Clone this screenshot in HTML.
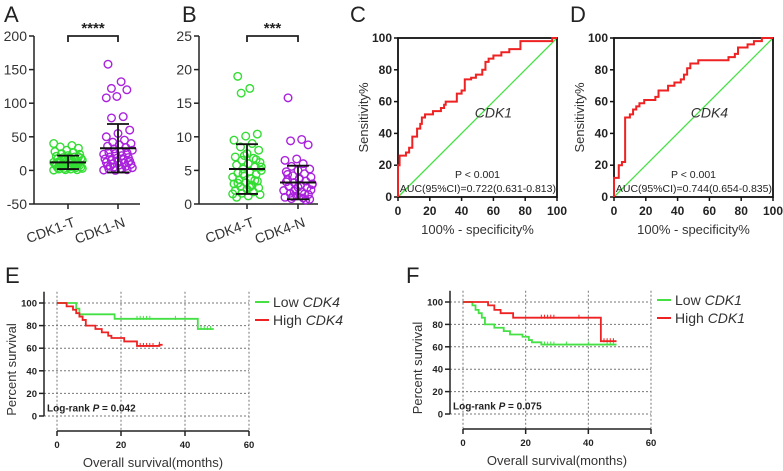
<!DOCTYPE html>
<html><head><meta charset="utf-8"><style>
body{margin:0;background:#fff}
svg{display:block;font-family:"Liberation Sans",Arial,sans-serif}
</style></head><body>
<svg id="fig" width="783" height="471" viewBox="0 0 783 471"></svg>
<script>
// ---------- data ----------
const catsA=["CDK1-T","CDK1-N"];
const cdk1T=[40,37,35,33,30,28,27,25,24,22,21,20,19,18,18,17,16,15,15,14,13,13,12,12,11,11,10,10,9,9,8,8,7,7,6,6,5,5,4,4,3,3,2,2,1,1,0.5,6,14,20];
const cdk1N=[158,132,122,120,110,108,80,78,60,55,50,45,42,40,38,36,34,32,30,28,27,26,25,24,22,20,19,18,17,16,15,14,13,12,11,10,9,8,7,6,5,4,3,2,1,0,0.5,2,6,12];
const statsA_mean=[12,33], statsA_sd=[10,36];
const catsB=["CDK4-T","CDK4-N"];
const cdk4T=[19,17.2,16.5,10.4,10.1,9.5,9,8.5,8,7.5,7,6.8,6.5,6.2,6,5.8,5.5,5.2,5,4.8,4.6,4.4,4.2,4,3.8,3.6,3.4,3.2,3,2.8,2.6,2.4,2.2,2,1.8,1.6,1.4,1.2,1,3.5,4.5,5.5,2.5,3.1,6.6,7.2,1.5,2.7];
const cdk4N=[15.8,9.6,9.4,8.8,6.7,6.5,6,5.6,5.2,5,4.8,4.5,4.2,4,3.8,3.6,3.4,3.2,3,2.8,2.6,2.4,2.2,2,1.8,1.6,1.4,1.2,1,0.9,0.8,0.7,2.5,3.3,1.5,1.1,2.1,3.7,4.4,0.6,1.9,2.9];
const statsB_mean=[5.2,3.2], statsB_sd=[3.7,2.5];
const rocC_x=[0,0,1,1,5,5,7,7,9,9,12,12,14,14,15,15,17,17,22,22,27,27,29,29,30,30,37,37,40,40,42,42,46,46,49,49,53,53,55,55,57,57,60,60,65,65,70,70,77,77,97,97,100];
const rocC_y=[0,20,20,26,26,28,28,31,31,38,38,43,43,46,46,50,50,52,52,54,54,56,56,58,58,60,60,65,65,67,67,74,74,75,75,77,77,80,80,85,85,87,87,89,89,91,91,93,93,98,98,100,100];
const rocD_x=[0,0,3,3,5,5,7,7,10,10,12,12,14,14,16,16,19,19,26,26,28,28,34,34,38,38,42,42,44,44,46,46,48,48,53,53,72,72,76,76,78,78,84,84,88,88,93,93,100];
const rocD_y=[0,12,12,20,20,22,22,50,50,52,52,55,55,57,57,59,59,61,61,63,63,67,67,70,70,72,72,74,74,77,77,81,81,84,84,86,86,88,88,90,90,94,94,96,96,98,98,100,100];
const kmE_low_t=[0,6,6,7,7,18,18,44,44,49], kmE_low_s=[100,100,95,95,90,90,86,86,77,77];
const kmE_high_t=[0,3,3,5,5,6,6,7,7,8,8,9,9,12,12,14,14,16,16,17,17,21,21,25,25,32,32,33];
const kmE_high_s=[100,100,97,97,94,94,91,91,88,88,85,85,80,80,77,77,74,74,71,71,69,69,66,66,62,62,63,63];
const kmE_low_cens=[25,26,27,28,29,37,45,46,47,48], kmE_high_cens=[26,27,28,29,30,32];
const kmF_high_t=[0,8,8,10,10,12,12,16,16,44,44,49], kmF_high_s=[100,100,97,97,93,93,90,90,86,86,65,65];
const kmF_low_t=[0,3,3,4,4,5,5,6,6,7,7,10,10,13,13,15,15,19,19,21,21,22,22,25,25,49];
const kmF_low_s=[100,100,97,97,93,93,90,90,86,86,80,80,77,77,74,74,71,71,69,69,66,66,64,64,62,62];
const kmF_high_cens=[25,26,27,28,29,37,45,46,47,48], kmF_low_cens=[26,27,28,29,33,40,46,47,48];

// ---------- helpers ----------
const svg=document.getElementById('fig');
const NS='http://www.w3.org/2000/svg';
function el(tag,attrs,parent){const e=document.createElementNS(NS,tag);for(const k in attrs)e.setAttribute(k,attrs[k]);(parent||svg).appendChild(e);return e;}
function txt(s,attrs,parent){const e=el('text',attrs,parent);e.textContent=s;return e;}
function lin(d0,d1,r0,r1){return v=>r0+(v-d0)/(d1-d0)*(r1-r0);}
const GREEN='#33dd33',PURP='#aa22dd',RED='#ee2222',LGREEN='#44e044';

// ---------- scatter panels ----------
function scatterPanel(name,label,lx,x0,x1,y0,y1,dmin,dmax,ticks,cats,groups,means,sds,stars,catX){
  const g=el('g',{});
  
  
  const y=lin(dmin,dmax,y1,y0);
  txt(label,{x:lx,y:22,'font-size':22,fill:'#222'},g);
  el('line',{x1:x0,y1:y0,x2:x0,y2:y1,stroke:'#222','stroke-width':1.5},g);
  el('line',{x1:x0,y1:y1,x2:x1,y2:y1,stroke:'#222','stroke-width':1.5},g);
  ticks.forEach(t=>{
    el('line',{x1:x0-5,y1:y(t),x2:x0,y2:y(t),stroke:'#222','stroke-width':1.5},g);
    const tl=txt(String(t),{x:x0-7,y:y(t)+5,'font-size':14,'text-anchor':'end',fill:'#333'},g);
    
    
  });
  const colors=[GREEN,PURP];
  groups.forEach((vals,gi)=>{
    const cx=catX[gi];
    el('line',{x1:cx,y1:y1,x2:cx,y2:y1+5,stroke:'#222','stroke-width':1.5},g);
    const cl=txt(cats[gi],{x:cx+8,y:y1+22,'font-size':14,'text-anchor':'end',fill:'#333',transform:`rotate(-20 ${cx+8} ${y1+22})`},g);
    
    
    vals.forEach((v,i)=>{
      const j=((i*37)%23-11)*1.3*Math.min(1,1.2-Math.abs(v-means[gi])/(dmax-dmin));
      const c=el('circle',{cx:cx+j,cy:y(v),r:3.8,fill:'none',stroke:colors[gi],'stroke-width':1.4},g);
      
      
    });
    const m=means[gi],s=sds[gi];
    el('line',{x1:cx-18,y1:y(m),x2:cx+18,y2:y(m),stroke:'#111','stroke-width':2},g);
    el('line',{x1:cx,y1:y(m-s),x2:cx,y2:y(m+s),stroke:'#111','stroke-width':1.8},g);
    el('line',{x1:cx-11,y1:y(m+s),x2:cx+11,y2:y(m+s),stroke:'#111','stroke-width':1.8},g);
    el('line',{x1:cx-11,y1:y(m-s),x2:cx+11,y2:y(m-s),stroke:'#111','stroke-width':1.8},g);
  });
  el('path',{d:`M${catX[0]},42 V36 H${catX[1]} V42`,fill:'none',stroke:'#222','stroke-width':1.8},g);
  txt(stars,{x:(catX[0]+catX[1])/2,y:33,'font-size':15,'font-weight':'bold','text-anchor':'middle',fill:'#222'},g);
}
scatterPanel('panel-a-scatter','A',4,34,140,36,204,-50,200,[-50,0,50,100,150,200],catsA,[cdk1T,cdk1N],statsA_mean,statsA_sd,'****',[68,118]);
scatterPanel('panel-b-scatter','B',182,199,318,36,204,0,25,[0,5,10,15,20,25],catsB,[cdk4T,cdk4N],statsB_mean,statsB_sd,'***',[247,298]);

// ---------- ROC panels ----------
function rocPanel(name,label,lx,x0,x1,y0,y1,rx,ry,gene,auc){
  const g=el('g',{});
  
  
  const X=lin(0,100,x0,x1),Y=lin(0,100,y1,y0);
  txt(label,{x:lx,y:22,'font-size':22,fill:'#222'},g);
  el('line',{x1:X(0),y1:Y(0),x2:X(100),y2:Y(100),stroke:LGREEN,'stroke-width':1.3},g);
  el('rect',{x:x0,y:y0,width:x1-x0,height:y1-y0,fill:'none',stroke:'#111','stroke-width':1.8},g);
  [0,20,40,60,80,100].forEach(t=>{
    el('line',{x1:x0-4,y1:Y(t),x2:x0,y2:Y(t),stroke:'#111','stroke-width':1.5},g);
    el('line',{x1:X(t),y1:y1,x2:X(t),y2:y1+4,stroke:'#111','stroke-width':1.5},g);
    txt(String(t),{x:x0-6,y:Y(t)+4,'font-size':12,'font-weight':'bold','text-anchor':'end',fill:'#222'},g);
    txt(String(t),{x:X(t),y:y1+18,'font-size':12,'font-weight':'bold','text-anchor':'middle',fill:'#222'},g);
  });
  let d='';rx.forEach((v,i)=>{d+=(i?'L':'M')+X(v)+','+Y(ry[i]);});
  const p=el('path',{d,fill:'none',stroke:RED,'stroke-width':2},g);
  
  
  txt(gene,{x:X(60),y:Y(50),'font-size':14,'font-style':'italic','text-anchor':'middle',fill:'#333'},g);
  txt('P < 0.001',{x:X(50),y:Y(12),'font-size':10.5,'text-anchor':'middle',fill:'#222'},g);
  txt(auc,{x:X(100)-1,y:Y(3),'font-size':10.5,'text-anchor':'end',fill:'#222'},g);
  txt('100% - specificity%',{x:(x0+x1)/2,y:y1+37,'font-size':13,'text-anchor':'middle',fill:'#333'},g);
  txt('Sensitivity%',{x:0,y:0,'font-size':13,'text-anchor':'middle',fill:'#333',transform:`translate(${x0-30} ${(y0+y1)/2}) rotate(-90)`},g);
}
rocPanel('panel-c-roc','C',350,398,557,38,197,rocC_x,rocC_y,'CDK1','AUC(95%CI)=0.722(0.631-0.813)');
rocPanel('panel-d-roc','D',570,614,773,38,197,rocD_x,rocD_y,'CDK4','AUC(95%CI)=0.744(0.654-0.835)');

// ---------- KM panels ----------
function kmPanel(name,label,lx,ax,x0,x1,y0,y1,xa,series,legend,lgx,lgy,pval){
  const g=el('g',{});
  
  
  const X=lin(0,60,x0,x1),Y=lin(0,100,y1,y0);
  txt(label,{x:lx,y:283,'font-size':22,fill:'#222'},g);
  [0,20,40,60,80,100].forEach(t=>{
    el('line',{x1:ax,y1:Y(t),x2:x1,y2:Y(t),stroke:'#777','stroke-width':1,'stroke-dasharray':'2,2'},g);
    el('line',{x1:ax-5,y1:Y(t),x2:ax,y2:Y(t),stroke:'#222','stroke-width':1.5},g);
    txt(String(t),{x:ax-7,y:Y(t)+3.5,'font-size':9.5,'font-weight':'bold','text-anchor':'end',fill:'#222'},g);
  });
  [0,20,40,60].forEach(t=>{
    el('line',{x1:X(t),y1:Y(110),x2:X(t),y2:xa,stroke:'#777','stroke-width':1,'stroke-dasharray':'2,2'},g);
    el('line',{x1:X(t),y1:xa,x2:X(t),y2:xa+5,stroke:'#222','stroke-width':1.5},g);
    txt(String(t),{x:X(t),y:xa+17,'font-size':9.5,'font-weight':'bold','text-anchor':'middle',fill:'#222'},g);
  });
  el('line',{x1:ax,y1:Y(110),x2:ax,y2:Y(0),stroke:'#222','stroke-width':1.5},g);
  el('line',{x1:X(0),y1:xa,x2:X(60),y2:xa,stroke:'#222','stroke-width':1.5},g);
  series.forEach(s=>{
    let d='';s.t.forEach((v,i)=>{d+=(i?'L':'M')+X(v)+','+Y(s.s[i]);});
    const p=el('path',{d,fill:'none',stroke:s.c,'stroke-width':1.8},g);
    
    
    s.cens.forEach(ct=>{
      let sv=s.s[0];s.t.forEach((v,i)=>{if(v<=ct)sv=s.s[i];});
      el('line',{x1:X(ct),y1:Y(sv)-3,x2:X(ct),y2:Y(sv)+1,stroke:s.c,'stroke-width':1},g);
    });
  });
  legend.forEach((L,i)=>{
    const ly=lgy+i*18;
    const lg=el('g',{},g);
    
    
    el('line',{x1:lgx,y1:ly,x2:lgx+14,y2:ly,stroke:L.c,'stroke-width':2},lg);
    const t=txt(L.a+' ',{x:lgx+18,y:ly+5,'font-size':14,fill:'#333'},lg);
    const ts=el('tspan',{'font-style':'italic'},t);ts.textContent=L.b;
  });
  const pt=txt('Log-rank ',{x:ax+3,y:Y(4),'font-size':10,'font-weight':'bold',fill:'#222'},g);
  const pi=el('tspan',{'font-style':'italic'},pt);pi.textContent='P';
  const pr=el('tspan',{},pt);pr.textContent=' = '+pval;
  txt('Overall survival(months)',{x:X(30),y:xa+36,'font-size':13,'text-anchor':'middle',fill:'#333'},g);
  txt('Percent survival',{x:0,y:0,'font-size':13,'text-anchor':'middle',fill:'#333',transform:`translate(${ax-28} ${(Y(0)+Y(100))/2+10}) rotate(-90)`},g);
}
kmPanel('panel-e-km','E',5,44,57,249,303,416,431,
  [{t:kmE_low_t,s:kmE_low_s,c:LGREEN,cens:kmE_low_cens},{t:kmE_high_t,s:kmE_high_s,c:RED,cens:kmE_high_cens}],
  [{a:'Low',b:'CDK4',c:LGREEN},{a:'High',b:'CDK4',c:RED}],255,302,'0.042');
kmPanel('panel-f-km','F',406,450,463,651,302,414,429,
  [{t:kmF_low_t,s:kmF_low_s,c:LGREEN,cens:kmF_low_cens},{t:kmF_high_t,s:kmF_high_s,c:RED,cens:kmF_high_cens}],
  [{a:'Low',b:'CDK1',c:LGREEN},{a:'High',b:'CDK1',c:RED}],657,300,'0.075');
</script>
</body></html>
